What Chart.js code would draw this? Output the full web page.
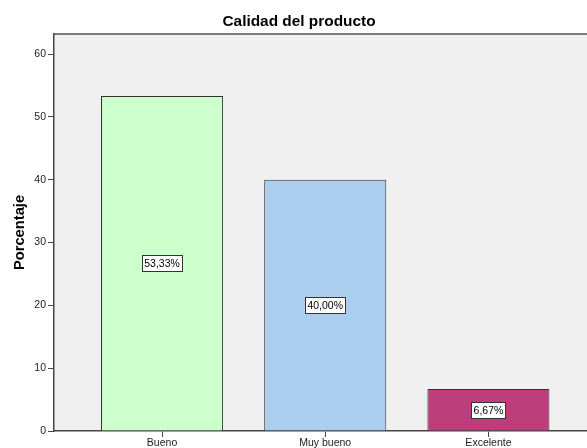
<!DOCTYPE html>
<html>
<head>
<meta charset="utf-8">
<script src="https://cdn.jsdelivr.net/npm/chart.js@4/dist/chart.umd.min.js"></script>
<style>
html,body{margin:0;padding:0;background:#fff;}
#c{display:block;}
</style>
</head>
<body>
<canvas id="c" width="587" height="448"></canvas>
<script>
const categories = ["Bueno", "Muy bueno", "Excelente"];
const values = [53.33, 40.00, 6.67];
const barColors = ["#CCFFCC", "#ABCEEE", "#BD3E7B"];
const yTicks = [0, 10, 20, 30, 40, 50, 60];
const chartTitle = "Calidad del producto";
const yTitle = "Porcentaje";

const FONT = "'Liberation Sans', Arial, sans-serif";

const plotBg = {
  id: 'plotBg',
  beforeDraw(chart) {
    const {ctx, chartArea: a} = chart;
    ctx.save();
    ctx.fillStyle = '#F0F0F0';
    ctx.fillRect(a.left, a.top, a.right - a.left, a.bottom - a.top);
    ctx.restore();
  },
  afterDraw(chart) {
    const {ctx, chartArea: a} = chart;
    ctx.save();
    ctx.strokeStyle = '#555';
    ctx.lineWidth = 1.5;
    ctx.beginPath();
    ctx.moveTo(a.left, a.top);
    ctx.lineTo(a.right, a.top);
    ctx.stroke();
    ctx.restore();
  }
};

const barLabels = {
  id: 'barLabels',
  afterDatasetsDraw(chart) {
    const {ctx} = chart;
    const meta = chart.getDatasetMeta(0);
    ctx.save();
    ctx.font = "10.5px " + FONT;
    ctx.textAlign = 'center';
    ctx.textBaseline = 'middle';
    meta.data.forEach((el, i) => {
      const txt = values[i].toFixed(2).replace('.', ',') + '%';
      const cx = el.x;
      const cy = Math.round((el.y + el.base) / 2);
      const w = Math.round(ctx.measureText(txt).width) + 4;
      const h = 16;
      const x0 = Math.round(cx - w / 2) + 0.5;
      const y0 = Math.round(cy - h / 2) + 0.5;
      ctx.fillStyle = '#fff';
      ctx.fillRect(x0, y0, w, h);
      ctx.strokeStyle = '#333';
      ctx.lineWidth = 1;
      ctx.strokeRect(x0, y0, w, h);
      ctx.fillStyle = '#000';
      ctx.fillText(txt, cx, cy + 1);
    });
    ctx.restore();
  }
};

new Chart(document.getElementById('c'), {
  type: 'bar',
  data: {
    datasets: [{
      data: values.map((v, i) => ({x: i, y: v})),
      backgroundColor: barColors,
      borderColor: '#333',
      borderWidth: 1,
      borderSkipped: 'bottom',
      categoryPercentage: 1,
      barPercentage: 0.748
    }]
  },
  options: {
    responsive: false,
    animation: false,
    devicePixelRatio: 1,
    layout: {padding: {left: 11, right: 0, top: 0, bottom: 0}},
    plugins: {
      legend: {display: false},
      tooltip: {enabled: false},
      title: {
        display: true,
        text: chartTitle,
        color: '#000',
        font: {family: FONT, size: 15.4, weight: 'bold'},
        padding: {top: 12.8, bottom: 2.7}
      }
    },
    scales: {
      x: {
        type: 'linear',
        offset: false,
        min: -0.662,
        max: 2.604,
        afterBuildTicks(scale) {
          scale.ticks = categories.map((_, i) => ({value: i}));
        },
        afterFit(scale) { scale.height = 17; },
        border: {display: true, color: '#444', width: 1.5},
        grid: {display: true, drawOnChartArea: false, drawTicks: true, tickLength: 6, color: '#444', offset: false},
        ticks: {
          autoSkip: false,
          maxRotation: 0,
          padding: 0,
          color: '#222',
          font: {family: FONT, size: 10.5},
          callback: (v) => categories[v] !== undefined ? categories[v] : ''
        }
      },
      y: {
        min: 0,
        max: 63.2,
        afterBuildTicks(scale) {
          scale.ticks = yTicks.map(v => ({value: v}));
        },
        afterFit(scale) { scale.width = 43; },
        border: {display: true, color: '#444', width: 1.5},
        grid: {display: true, drawOnChartArea: false, drawTicks: true, tickLength: 6, color: '#444'},
        ticks: {
          padding: 2,
          color: '#222',
          font: {family: FONT, size: 10.5}
        },
        title: {
          display: true,
          text: yTitle,
          color: '#000',
          font: {family: FONT, size: 14.7, weight: 'bold'},
          padding: {top: 0, bottom: 2}
        }
      }
    }
  },
  plugins: [plotBg, barLabels]
});
</script>
</body>
</html>
